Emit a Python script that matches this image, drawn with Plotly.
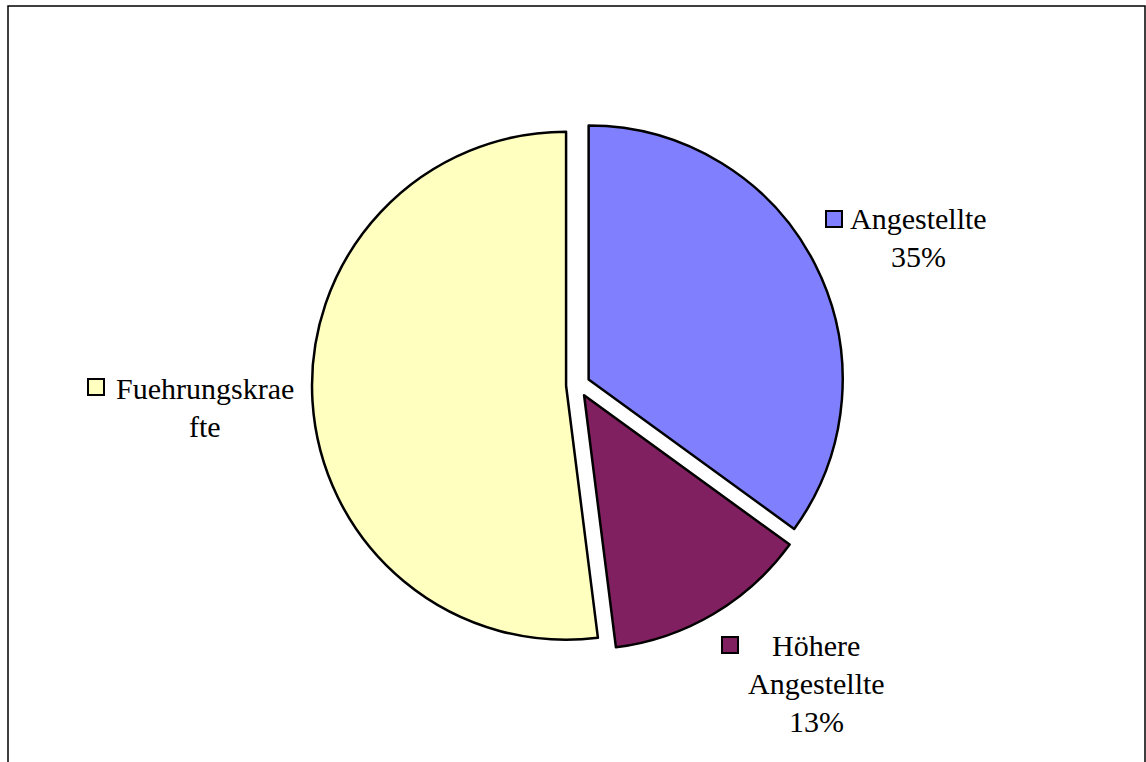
import plotly.graph_objects as go

# Workforce composition by staff category
categories = ["Angestellte", "Höhere Angestellte", "Fuehrungskraefte"]
shares = [35, 13, 52]
label_lines = [["Angestellte"], ["Höhere", "Angestellte"], ["Fuehrungskrae", "fte"]]
show_percent = [True, True, False]
colors = ["#8080FF", "#802060", "#FFFFC0"]

W, H = 1146, 762
FONT = "Liberation Serif"


def px(x):
    return x / W


def py(y):
    return 1 - y / H


fig = go.Figure(
    go.Pie(
        labels=categories,
        values=shares,
        sort=False,
        direction="clockwise",
        rotation=0,
        pull=[0.047, 0.047, 0.047],
        marker=dict(colors=colors, line=dict(color="black", width=2.5)),
        textinfo="none",
        hoverinfo="label+percent",
        showlegend=False,
        domain=dict(x=[px(311), px(845)], y=[py(651), py(119)]),
    )
)

# label blocks: (text centre x, first line y, key square x, key square y)
label_pos = [
    (918, 218, 834, 219),
    (816, 645, 730, 645),
    (205, 388, 96, 387),
]
line_gap = 38
total = sum(shares)
half_key = 8

shapes = []
annotations = []
for name, lines, pct, col, (tx, ty, kx, ky), v in zip(
    categories, label_lines, show_percent, colors, label_pos, shares
):
    texts = list(lines)
    if pct:
        texts.append(f"{round(100 * v / total)}%")
    for i, t in enumerate(texts):
        annotations.append(
            dict(
                x=px(tx), y=py(ty + i * line_gap), xref="paper", yref="paper",
                text=t, showarrow=False, xanchor="center", yanchor="middle",
                font=dict(family=FONT, size=30, color="black"),
            )
        )
    shapes.append(
        dict(
            type="rect", xref="paper", yref="paper",
            x0=px(kx - half_key), x1=px(kx + half_key),
            y0=py(ky + half_key), y1=py(ky - half_key),
            fillcolor=col, line=dict(color="black", width=2),
        )
    )

# outer chart frame
shapes.append(
    dict(
        type="rect", xref="paper", yref="paper",
        x0=px(8), x1=px(1145), y0=py(800), y1=py(6),
        line=dict(color="black", width=1.5), fillcolor="rgba(0,0,0,0)",
        layer="below",
    )
)

fig.update_layout(
    width=W, height=H,
    margin=dict(l=0, r=0, t=0, b=0),
    paper_bgcolor="white", plot_bgcolor="white",
    shapes=shapes, annotations=annotations,
)

fig.write_html("out.html")
